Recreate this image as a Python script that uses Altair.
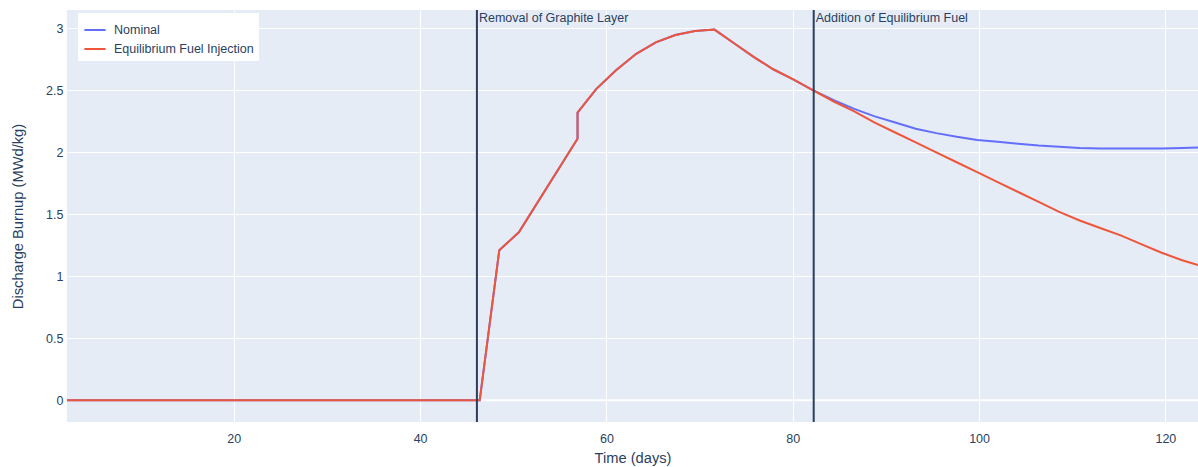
import altair as alt
import pandas as pd

# Time axis (days) shared by both runs
days = [2.1, 46.4, 48.5, 50.6, 56.9, 56.9, 58.9, 61.0, 63.2, 65.3, 67.4, 69.5,
        71.6, 73.7, 75.8, 77.9, 80.0, 82.2, 84.4, 86.6, 88.8, 91.0, 93.2, 95.4,
        97.6, 99.8, 102.0, 104.2, 106.4, 108.6, 110.8, 113.0, 115.2, 117.4,
        119.6, 121.8, 123.5]

# Discharge burnup (MWd/kg)
nominal = [0.0, 0.0, 1.21, 1.355, 2.11, 2.32, 2.51, 2.66, 2.795, 2.887, 2.946,
           2.978, 2.99, 2.88, 2.77, 2.67, 2.59, 2.50, 2.42, 2.35, 2.29, 2.24,
           2.19, 2.155, 2.125, 2.10, 2.085, 2.07, 2.055, 2.045, 2.035, 2.03,
           2.03, 2.03, 2.03, 2.035, 2.04]
injection = [0.0, 0.0, 1.21, 1.355, 2.11, 2.32, 2.51, 2.66, 2.795, 2.887, 2.946,
             2.978, 2.99, 2.88, 2.77, 2.67, 2.59, 2.50, 2.41, 2.33, 2.24, 2.16,
             2.08, 2.00, 1.92, 1.84, 1.76, 1.68, 1.60, 1.52, 1.45, 1.39, 1.33,
             1.26, 1.19, 1.13, 1.09]

series_names = ["Nominal", "Equilibrium Fuel Injection"]
series_colors = ["#636efa", "#EF553B"]

# Events marked with vertical lines
event_days = [46.1, 82.25]
event_labels = ["Removal of Graphite Layer", "Addition of Equilibrium Fuel"]

x_ticks = [20, 40, 60, 80, 100, 120]
y_ticks = [0, 0.5, 1, 1.5, 2, 2.5, 3]

FONT = "Liberation Sans"
INK = "#2a3f5f"

rows = []
for i, d in enumerate(days):
    rows.append({"order": i, "Time": d, "Burnup": nominal[i], "Series": series_names[0]})
    rows.append({"order": i, "Time": d, "Burnup": injection[i], "Series": series_names[1]})
df = pd.DataFrame(rows)
events = pd.DataFrame({"Time": event_days, "Label": event_labels})

x_enc = alt.X("Time:Q",
              scale=alt.Scale(domain=[2.1, 123.5], nice=False, zero=False),
              axis=alt.Axis(values=x_ticks, title="Time (days)", labelPadding=10,
                            titlePadding=6))
y_enc = alt.Y("Burnup:Q",
              scale=alt.Scale(domain=[-0.175, 3.148], nice=False, zero=False),
              axis=alt.Axis(values=y_ticks, format="~g",
                            title="Discharge Burnup (MWd/kg)",
                            labelPadding=4, titlePadding=20))
color_enc = alt.Color("Series:N",
                      scale=alt.Scale(domain=series_names, range=series_colors),
                      legend=alt.Legend(title=None, orient="none", legendX=11,
                                        legendY=3, fillColor="white", padding=5,
                                        symbolType="stroke", symbolSize=450,
                                        symbolStrokeWidth=2, rowPadding=0,
                                        labelFontSize=12.5, labelColor=INK,
                                        labelFont=FONT, labelOffset=7))

zero_line = alt.Chart(pd.DataFrame({"Burnup": [0.0]})).mark_rule(
    color="white", strokeWidth=2).encode(y=alt.Y("Burnup:Q"))

event_rules = alt.Chart(events).mark_rule(color=INK, strokeWidth=2).encode(
    x=alt.X("Time:Q"))

event_text = alt.Chart(events).mark_text(
    align="left", baseline="middle", dx=2, fontSize=12.5, font=FONT, color=INK
).encode(x=alt.X("Time:Q"), y=alt.value(8), text="Label:N")

nominal_line = alt.Chart(df[df["Series"] == series_names[0]]).mark_line(
    strokeWidth=2).encode(x=x_enc, y=y_enc, color=color_enc, order="order:Q")
injection_line = alt.Chart(df[df["Series"] == series_names[1]]).mark_line(
    strokeWidth=2).encode(x=x_enc, y=y_enc, color=color_enc, order="order:Q")

chart = alt.layer(
    zero_line, nominal_line, injection_line, event_rules, event_text
).properties(
    width=1131, height=412, autosize="none",
    padding={"left": 67, "top": 10, "right": 0, "bottom": 45},
    background="white",
).configure_view(
    fill="#E5ECF6", stroke=None
).configure_axis(
    grid=True, gridColor="white", gridWidth=1, domain=False, ticks=False,
    labelFont=FONT, labelFontSize=12.5, labelColor=INK,
    titleFont=FONT, titleFontSize=14.7, titleColor=INK, titleFontWeight="normal",
)

chart.save("out.html", embed_options={"renderer": "svg", "actions": False})
